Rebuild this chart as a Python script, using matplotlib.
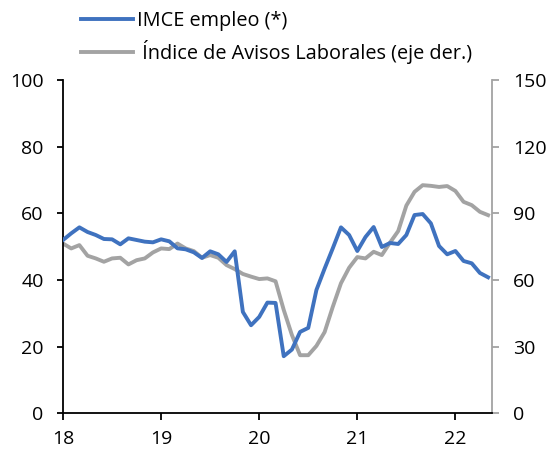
import numpy as np
import matplotlib
matplotlib.use('Agg')
import matplotlib.pyplot as plt

plt.rcParams['font.family'] = ['Open Sans', 'DejaVu Sans']

# monthly, Jan 2018 - May 2022
imce_empleo = [52.0, 54.0, 55.8, 54.4, 53.5, 52.3, 52.2, 50.7, 52.5, 52.0, 51.5, 51.3,
               52.2, 51.6, 49.5, 49.2, 48.3, 46.6, 48.6, 47.7, 45.4, 48.6, 30.4, 26.4,
               28.9, 33.2, 33.1, 17.1, 19.1, 24.4, 25.6, 37.0, 43.4, 49.5, 55.8, 53.5,
               48.7, 52.9, 55.9, 49.9, 51.1, 50.8, 53.5, 59.5, 59.8, 57.0, 50.2, 47.7,
               48.7, 45.7, 45.0, 42.1, 40.8]
avisos = [76.4, 74.2, 75.7, 70.9, 69.7, 68.2, 69.7, 70.0, 67.0, 68.9, 69.7, 72.4,
          74.2, 73.9, 76.4, 74.2, 73.0, 70.0, 71.2, 70.0, 66.7, 64.9, 62.7, 61.5,
          60.4, 60.7, 59.4, 46.5, 35.2, 26.1, 26.1, 30.3, 36.5, 47.9, 58.5, 65.5,
          70.3, 69.7, 72.7, 71.2, 76.8, 82.0, 93.5, 99.7, 102.7, 102.4, 101.9, 102.3,
          100.1, 95.2, 93.7, 90.7, 89.2]
year_ticks = [18, 19, 20, 21, 22]
left_ticks = [0, 20, 40, 60, 80, 100]
right_ticks = [0, 30, 60, 90, 120, 150]

x = 18 + np.arange(len(imce_empleo)) / 12.0
blue = '#3f72bf'
grey = '#a3a3a3'

fig = plt.figure(figsize=(5.53, 4.53), dpi=100)
ax = fig.add_axes([0.114, 0.088, 0.776, 0.735])
ax2 = ax.twinx()

l1, = ax.plot(x, imce_empleo, color=blue, lw=2.8, label='IMCE empleo (*)', zorder=3)
l2, = ax2.plot(x, avisos, color=grey, lw=2.8, label=' Índice de Avisos Laborales (eje der.)')
ax.set_zorder(ax2.get_zorder() + 1)
ax.patch.set_visible(False)

ax.set_xlim(18, 18 + 52.5 / 12)
ax.set_ylim(0, 100)
ax2.set_ylim(0, 150)
ax.set_xticks(year_ticks)
ax.set_yticks(left_ticks)
ax2.set_yticks(right_ticks)

for a in (ax, ax2):
    a.spines['top'].set_visible(False)
ax.spines['right'].set_visible(False)
ax2.spines['left'].set_visible(False)
ax2.spines['bottom'].set_visible(False)
ax2.spines['right'].set_color(grey)
ax.spines['left'].set_linewidth(1.3)
ax.spines['bottom'].set_linewidth(1.3)
ax2.spines['right'].set_linewidth(1.3)

ax.tick_params(axis='y', direction='out', length=4, width=1.3, labelsize=14, pad=10)
ax.tick_params(axis='x', direction='out', length=5, width=1.3, labelsize=14, pad=7)
ax2.tick_params(axis='y', direction='out', length=5, width=1.3, color=grey,
                labelsize=14, pad=10)

fig.legend(handles=[l1, l2], loc='upper left', bbox_to_anchor=(0.114, 1.015),
           frameon=False, fontsize=14.3, handlelength=2.6, handletextpad=0.2,
           labelspacing=0.45)

fig.savefig('out.png', dpi=100)
